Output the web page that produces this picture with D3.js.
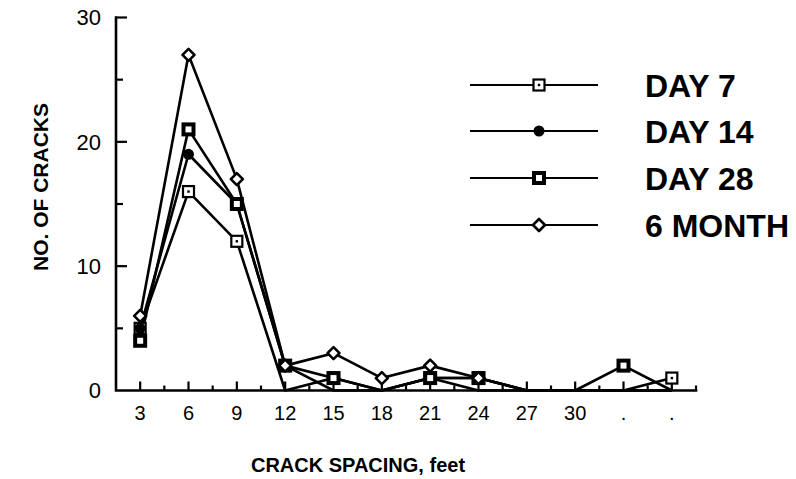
<!DOCTYPE html>
<html>
<head>
<meta charset="utf-8">
<script src="https://cdn.jsdelivr.net/npm/d3@7"></script>
<style>
  html, body { margin: 0; padding: 0; background: #fff; }
  svg { display: block; font-family: "Liberation Sans", Arial, Helvetica, sans-serif; }
</style>
</head>
<body>
<svg id="chart" width="796" height="479"></svg>
<script>
// Crack spacing categories (feet); the last two bins are unlabelled
const tickLabels = ["3", "6", "9", "12", "15", "18", "21", "24", "27", "30", ".", "."];

// Number of cracks in each spacing bin, per survey age
const day7   = [5, 16, 12, 0, 1, 0, 1, 1, 0, 0, 0, 1];
const day14  = [5, 19, 15, 2, 0, 0, 1, 0, 0, 0, 0, 0];
const day28  = [4, 21, 15, 2, 1, 0, 1, 1, 0, 0, 2, 0];
const month6 = [6, 27, 17, 2, 3, 1, 2, 1, 0, 0, 0, 0];

const seriesNames = ["DAY 7", "DAY 14", "DAY 28", "6 MONTH"];
const yTicks = [0, 5, 10, 15, 20, 25, 30];
const yLabels = [0, 10, 20, 30];

const series = [
  { name: seriesNames[0], values: day7,   marker: "openSquare" },
  { name: seriesNames[1], values: day14,  marker: "dot" },
  { name: seriesNames[2], values: day28,  marker: "heavySquare" },
  { name: seriesNames[3], values: month6, marker: "diamond" }
];

const svg = d3.select("#chart");

// index scale: bins at 0..11, axis runs half a bin beyond each end
const x = d3.scaleLinear().domain([-0.5, 11.5]).range([116, 696]);
const y = d3.scaleLinear().domain([0, 30]).range([390.5, 17.5]);

const ink = "#000";

// ---- axes ----
const axes = svg.append("g").attr("stroke", ink).attr("stroke-width", 2.6).attr("fill", "none");
axes.append("path")
  .attr("d", `M${x(-0.5)},${y(30)} L${x(-0.5)},${y(0)} L${x(11.5)},${y(0)}`)
  .attr("stroke-linecap", "square");

// y ticks point into the plot
yTicks.forEach(v => {
  if (v === 0) return;
  const len = v % 10 === 0 ? 11 : 7;
  axes.append("line")
    .attr("x1", x(-0.5)).attr("x2", x(-0.5) + len)
    .attr("y1", y(v)).attr("y2", y(v))
    .attr("stroke-width", 2.2);
});

// x ticks: long at each bin, short between bins
d3.range(0, 12).forEach(i => {
  axes.append("line")
    .attr("x1", x(i)).attr("x2", x(i))
    .attr("y1", y(0)).attr("y2", y(0) - 9)
    .attr("stroke-width", 2.2);
});
d3.range(0.5, 12, 1).forEach(i => {
  axes.append("line")
    .attr("x1", x(i)).attr("x2", x(i))
    .attr("y1", y(0)).attr("y2", y(0) - 5)
    .attr("stroke-width", 2.2);
});

// y tick labels
svg.append("g").selectAll("text").data(yLabels).join("text")
  .attr("x", 101).attr("y", d => y(d))
  .attr("dy", "0.36em")
  .attr("text-anchor", "end")
  .attr("font-size", 22)
  .attr("fill", ink)
  .text(d => d);

// x tick labels
svg.append("g").selectAll("text").data(tickLabels).join("text")
  .attr("x", (d, i) => x(i)).attr("y", 420)
  .attr("text-anchor", "middle")
  .attr("font-size", 20)
  .attr("fill", ink)
  .text(d => d);

// axis titles
svg.append("text")
  .attr("x", 358).attr("y", 472)
  .attr("text-anchor", "middle")
  .attr("font-size", 20).attr("font-weight", "bold")
  .attr("fill", ink)
  .text("CRACK SPACING, feet");

svg.append("text")
  .attr("transform", "translate(48,187) rotate(-90)")
  .attr("text-anchor", "middle")
  .attr("font-size", 21).attr("font-weight", "bold")
  .attr("fill", ink)
  .text("NO. OF CRACKS");

// ---- markers ----
function drawMarker(g, type, cx, cy) {
  if (type === "openSquare") {
    g.append("rect").attr("x", cx - 5.5).attr("y", cy - 5.5).attr("width", 11).attr("height", 11)
      .attr("fill", "#fff").attr("stroke", ink).attr("stroke-width", 2.2);
    g.append("rect").attr("x", cx - 1.2).attr("y", cy - 1.2).attr("width", 2.4).attr("height", 2.4).attr("fill", ink);
  } else if (type === "dot") {
    g.append("circle").attr("cx", cx).attr("cy", cy).attr("r", 5.5).attr("fill", ink);
  } else if (type === "heavySquare") {
    g.append("rect").attr("x", cx - 5).attr("y", cy - 5).attr("width", 10).attr("height", 10)
      .attr("fill", "#fff").attr("stroke", ink).attr("stroke-width", 4);
  } else if (type === "diamond") {
    g.append("path")
      .attr("d", `M${cx},${cy - 6} L${cx + 6},${cy} L${cx},${cy + 6} L${cx - 6},${cy} Z`)
      .attr("fill", "#fff").attr("stroke", ink).attr("stroke-width", 2.6)
      .attr("stroke-linejoin", "round");
  }
}

// ---- data lines ----
const line = d3.line().x((d, i) => x(i)).y(d => y(d));
const plot = svg.append("g");
series.forEach(s => {
  plot.append("path")
    .attr("d", line(s.values))
    .attr("fill", "none").attr("stroke", ink).attr("stroke-width", 2.6)
    .attr("stroke-linejoin", "round");
});
series.forEach(s => {
  const g = plot.append("g");
  s.values.forEach((v, i) => {
    // markers sit on non-zero counts; zero counts rest on the axis
    if (v > 0) drawMarker(g, s.marker, x(i), y(v));
  });
});

// ---- legend ----
const legendRows = [85, 131, 178, 225];
series.forEach((s, k) => {
  const g = svg.append("g");
  const ly = legendRows[k];
  g.append("line").attr("x1", 470).attr("x2", 598).attr("y1", ly).attr("y2", ly)
    .attr("stroke", ink).attr("stroke-width", 2.2);
  drawMarker(g, s.marker, 539, ly);
  g.append("text")
    .attr("x", 645).attr("y", ly).attr("dy", "0.36em")
    .attr("font-size", 32).attr("font-weight", "bold")
    .attr("fill", ink)
    .text(s.name);
});
</script>
</body>
</html>
